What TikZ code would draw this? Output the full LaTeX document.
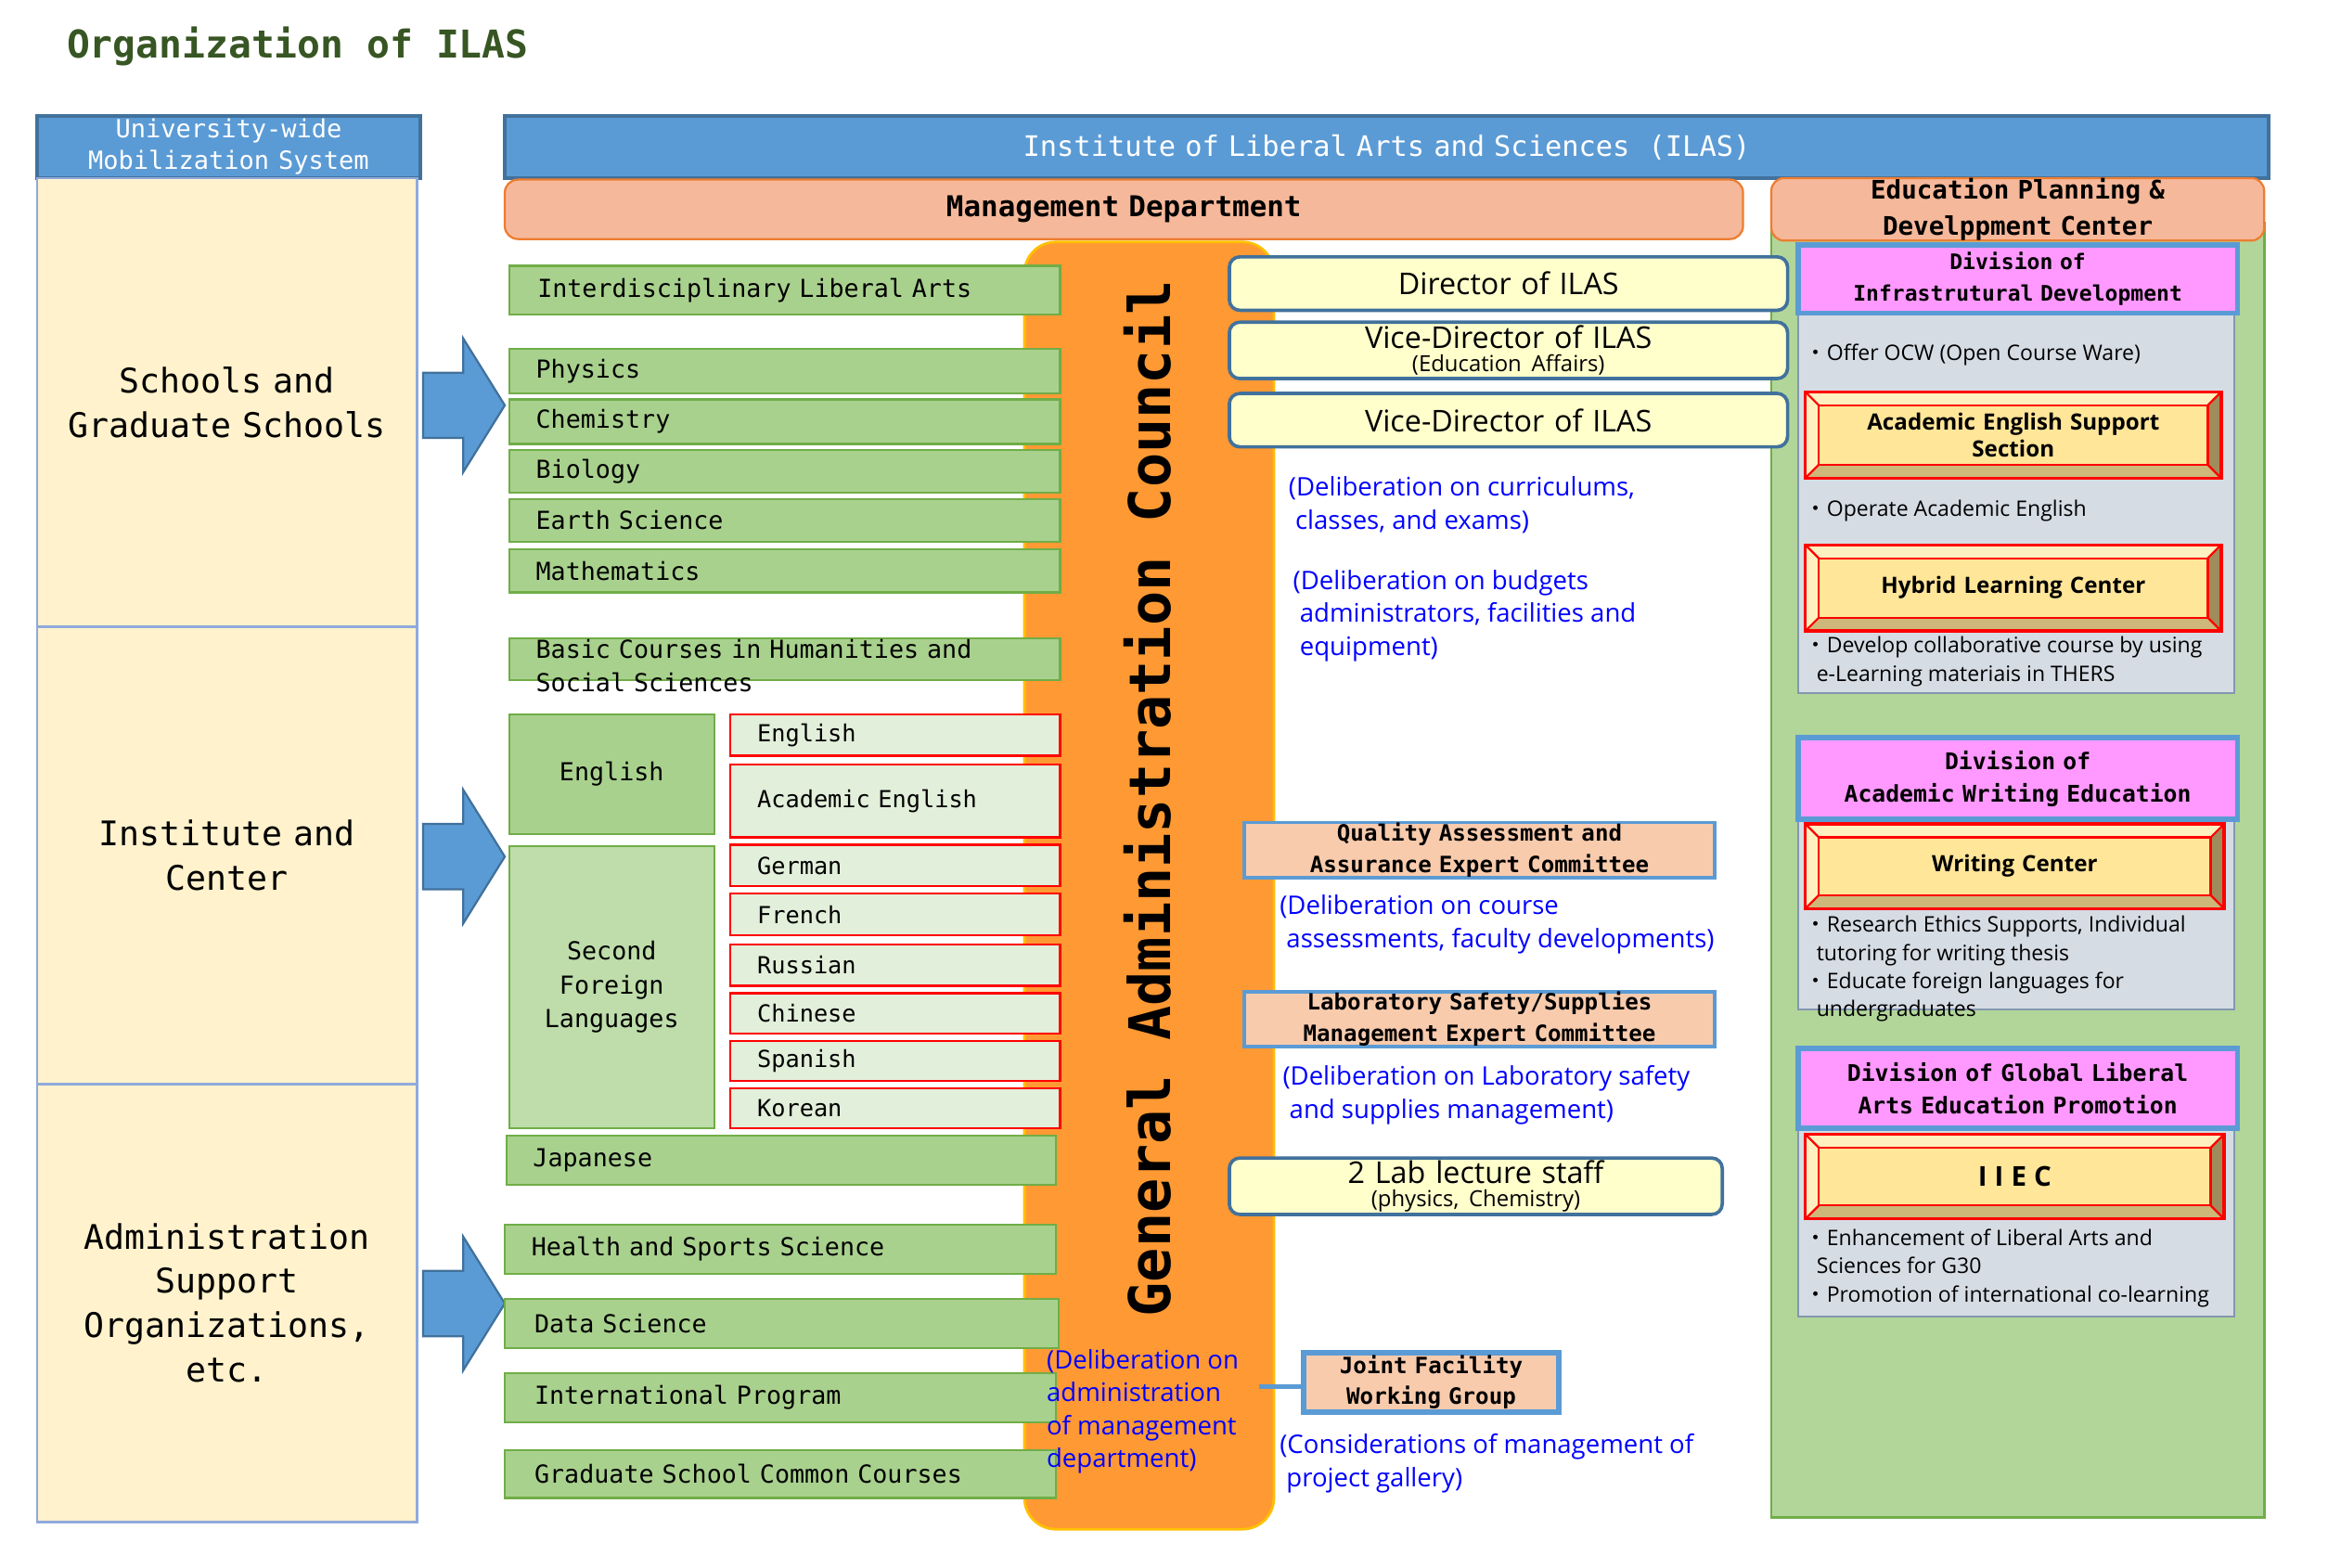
\documentclass[tikz,border=0pt]{standalone}
\usepackage{fontspec}
\setmainfont{Open Sans}
\newfontfamily\mono{DejaVu Sans Mono}
\newfontfamily\cjk{Noto Sans CJK JP}
\newcommand\dotb{{\cjk ・}}
\usetikzlibrary{positioning}
\def\uu{0.02cm}
\definecolor{blueH}{HTML}{5B9BD5}
\definecolor{blueHB}{HTML}{41719C}
\definecolor{cream}{HTML}{FFF2CC}
\definecolor{leftB}{HTML}{8FAADC}
\definecolor{salmon}{HTML}{F6B89A}
\definecolor{salmonB}{HTML}{ED7D31}
\definecolor{grn}{HTML}{A9D18E}
\definecolor{grnB}{HTML}{70AD47}
\definecolor{cOr}{HTML}{FF9933}
\definecolor{cOrB}{HTML}{FFC000}
\definecolor{lang}{HTML}{E2EFDA}
\definecolor{ybox}{HTML}{FFFFCC}
\definecolor{qual}{HTML}{F8CBAD}
\definecolor{pink}{HTML}{FF99FF}
\definecolor{grayp}{HTML}{D6DCE4}
\definecolor{grayB}{HTML}{8497B0}
\definecolor{bev}{HTML}{FFE699}
\definecolor{bevL}{HTML}{FFF0C0}
\definecolor{bevR}{HTML}{A08C5A}
\definecolor{bevB}{HTML}{CDB87A}
\definecolor{ttl}{HTML}{375623}
\definecolor{bluetxt}{HTML}{0000FF}
\newcommand\bx[8]{\node[#2, minimum width={((#5)-(#3))*\uu}, minimum height={((#6)-(#4))*\uu}, text width={((#5)-(#3)-2*(#7))*\uu}] (#1) at ({((#3)+(#5))/2*\uu},{-((#4)+(#6))/2*\uu}) {#8};}
\newcommand\bevel[6]{%
 \fill[bevL] (#2*\uu,-#3*\uu) -- (#4*\uu,-#3*\uu) -- (#4*\uu-9*\uu,-#3*\uu-9*\uu) -- (#2*\uu+9*\uu,-#3*\uu-9*\uu) -- cycle;
 \fill[bevL] (#2*\uu,-#3*\uu) -- (#2*\uu,-#5*\uu) -- (#2*\uu+9*\uu,-#5*\uu+9*\uu) -- (#2*\uu+9*\uu,-#3*\uu-9*\uu) -- cycle;
 \fill[bevR] (#4*\uu,-#3*\uu) -- (#4*\uu,-#5*\uu) -- (#4*\uu-9*\uu,-#5*\uu+9*\uu) -- (#4*\uu-9*\uu,-#3*\uu-9*\uu) -- cycle;
 \fill[bevB] (#2*\uu,-#5*\uu) -- (#4*\uu,-#5*\uu) -- (#4*\uu-9*\uu,-#5*\uu+9*\uu) -- (#2*\uu+9*\uu,-#5*\uu+9*\uu) -- cycle;
 \draw[red,line width=1.2pt] (#2*\uu,-#3*\uu) rectangle (#4*\uu,-#5*\uu);
 \draw[red,line width=0.8pt] (#2*\uu,-#3*\uu) -- ++(9*\uu,-9*\uu) (#4*\uu,-#3*\uu) -- ++(-9*\uu,-9*\uu) (#2*\uu,-#5*\uu) -- ++(9*\uu,9*\uu) (#4*\uu,-#5*\uu) -- ++(-9*\uu,9*\uu);
 \bx{#1}{bevin}{#2+9}{#3+9}{#4-9}{#5-9}{0}{#6}}
\begin{document}
\begin{tikzpicture}[
 every node/.style={inner sep=0pt, outer sep=0pt},
 hdr/.style={draw=blueHB, line width=1.2pt, fill=blueH, text=white, align=center, font=\mono\fontsize{10.8}{12}\selectfont},
 lpanel/.style={draw=leftB, line width=1pt, fill=cream, align=center, font=\mono\fontsize{13}{17}\selectfont},
 sal/.style={draw=salmonB, line width=0.8pt, fill=salmon, rounded corners=5pt, align=center, font=\mono\bfseries\fontsize{11}{13.5}\selectfont},
 gbox/.style={draw=grnB, line width=0.8pt, fill=grn, align=left, font=\mono\fontsize{9.5}{13}\selectfont},
 lbox/.style={draw=red, line width=0.8pt, fill=lang, align=left, font=\mono\fontsize{9}{11}\selectfont},
 ybx/.style={draw=blueHB, line width=1.3pt, fill=ybox, rounded corners=4pt, align=center, font=\fontsize{11.5}{12}\selectfont},
 qbox/.style={draw=blueH, line width=1.3pt, fill=qual, align=center, font=\mono\bfseries\fontsize{8.6}{12}\selectfont},
 pbox/.style={draw=blueH, line width=2pt, fill=pink, align=center, font=\mono\bfseries\fontsize{8.2}{12}\selectfont},
 bevin/.style={draw=red, line width=0.8pt, fill=bev, align=center, font=\bfseries\fontsize{8.6}{10.5}\selectfont},
 btxt/.style={text=bluetxt, align=left, anchor=north west, font=\fontsize{9.8}{12.6}\selectfont},
 bul/.style={align=left, anchor=north west, font=\fontsize{8.2}{10.8}\selectfont},
 barrow/.style={fill=blueH, draw=blueHB, line width=0.8pt},
 x=\uu, y=\uu]
\useasboundingbox (0,0) rectangle (1568,-1055.6);
\fill[white] (0,0) rectangle (1568,-1055.6);
% title
\node[anchor=west, text=ttl, font=\mono\bfseries\fontsize{14.7}{16}\selectfont] (title) at (45,-31) {Organization of ILAS};
% left column
\bx{uw}{hdr}{25}{78}{283}{120}{0}{\fontsize{9.6}{13}\selectfont University-wide\\Mobilization System}
\bx{lp1}{lpanel}{25}{120}{281}{422}{0}{Schools and\\Graduate Schools}
\bx{lp2}{lpanel}{25}{422}{281}{730}{0}{Institute and\\Center}
\bx{lp3}{lpanel}{25}{730}{281}{1025}{0}{Administration\\Support\\Organizations,\\etc.}
\foreach \c in {273,577,878}{
 \draw[barrow] (285,-\c+22) -- (312,-\c+22) -- (312,-\c+45) -- (340,-\c) -- (312,-\c-45) -- (312,-\c-22) -- (285,-\c-22) -- cycle;}
% headers
\bx{ilas}{hdr}{340}{78}{1528}{120}{0}{Institute of Liberal Arts and Sciences\ \ (ILAS)}
\bx{green}{draw=grnB, line width=1pt, fill=grn!90!white}{1193}{150}{1525}{1022}{0}{}
\bx{mgmt}{sal}{340}{121}{1174}{161}{0}{Management Department}
\bx{epdc}{sal, font=\mono\bfseries\fontsize{9.8}{14}\selectfont}{1193}{121}{1525}{161}{0}{Education Planning \&\\Develppment Center}
% council
\bx{council}{draw=cOrB, line width=1pt, fill=cOr, rounded corners=12pt}{690}{163}{858}{1030}{0}{}
\node[rotate=90, font=\mono\bfseries\fontsize{22}{24}\selectfont] (gac) at (773,-538) {General Administration Council};
% green boxes
\bx{ila}{gbox}{343}{179}{714}{212}{19}{Interdisciplinary Liberal Arts}
\bx{phy}{gbox}{343}{235}{714}{265}{18}{Physics}
\bx{che}{gbox}{343}{269}{714}{299}{18}{Chemistry}
\bx{bio}{gbox}{343}{303}{714}{332}{18}{Biology}
\bx{ear}{gbox}{343}{336}{714}{365}{18}{Earth Science}
\bx{mat}{gbox}{343}{370}{714}{399}{18}{Mathematics}
\bx{bch}{gbox, text depth=0pt}{343}{430}{714}{458}{18}{\raisebox{-5pt}{\parbox[b]{10cm}{Basic Courses in Humanities and\\Social Sciences}}}
\bx{eng}{gbox, align=center}{343}{481}{481}{562}{0}{English}
\bx{sfl}{gbox, align=center, fill=grn!75!white}{343}{570}{481}{760}{0}{Second\\Foreign\\Languages}
\bx{l1}{lbox}{492}{481}{714}{509}{18}{English}
\bx{l2}{lbox}{492}{515}{714}{564}{18}{Academic English}
\bx{l3}{lbox}{492}{569}{714}{597}{18}{German}
\bx{l4}{lbox}{492}{602}{714}{630}{18}{French}
\bx{l5}{lbox}{492}{636}{714}{664}{18}{Russian}
\bx{l6}{lbox}{492}{669}{714}{696}{18}{Chinese}
\bx{l7}{lbox}{492}{701}{714}{728}{18}{Spanish}
\bx{l8}{lbox}{492}{733}{714}{760}{18}{Korean}
\bx{jap}{gbox}{341}{765}{711}{798}{18}{Japanese}
\bx{hss}{gbox}{340}{825}{711}{858}{18}{Health and Sports Science}
\bx{ds}{gbox}{340}{875}{713}{908}{20}{Data Science}
\bx{ip}{gbox}{340}{925}{711}{958}{20}{International Program}
\bx{gsc}{gbox}{340}{977}{711}{1009}{20}{Graduate School Common Courses}
% directors
\bx{dir}{ybx}{828}{173}{1204}{209}{0}{Director of ILAS}
\bx{vd1}{ybx}{828}{217}{1204}{255}{0}{Vice-Director of ILAS\\[-3pt]{\fontsize{8.5}{9}\selectfont (Education Affairs)}}
\bx{vd2}{ybx}{828}{265}{1204}{301}{0}{Vice-Director of ILAS}
\node[btxt] (t1) at (868,-321) {(Deliberation on curriculums,\\\ classes, and exams)};
\node[btxt] (t2) at (871,-384) {(Deliberation on budgets\\\ administrators, facilities and\\\ equipment)};
\bx{qa}{qbox}{838}{554}{1155}{591}{0}{Quality Assessment and\\Assurance Expert Committee}
\node[btxt] (t3) at (862,-603) {(Deliberation on course\\\ assessments, faculty developments)};
\bx{ls}{qbox}{838}{668}{1155}{705}{0}{Laboratory Safety/Supplies\\Management Expert Committee}
\node[btxt] (t4) at (864,-718) {(Deliberation on Laboratory safety\\\ and supplies management)};
\bx{lab}{ybx}{828}{780}{1160}{818}{0}{2 Lab lecture staff\\[-3pt]{\fontsize{8.5}{9}\selectfont (physics, Chemistry)}}
\node[btxt] (t5) at (705,-909) {(Deliberation on\\administration\\of management\\department)};
\bx{jf}{qbox, line width=2pt}{878}{911}{1050}{951}{0}{Joint Facility\\Working Group}
\coordinate (jc) at (848,-934);
\draw[blueH, line width=2pt] (jc) -- (jf.west |- jc);
\node[btxt] (t6) at (862,-966) {(Considerations of management of\\\ project gallery)};
% right column
\bx{g1}{draw=grayB, line width=0.6pt, fill=grayp}{1211}{211}{1505}{467}{0}{}
\bx{d1}{pbox}{1211}{165}{1507}{211}{0}{Division of\\Infrastrutural Development}
\node[bul] (b1) at (1216,-232) {\dotb Offer OCW (Open Course Ware)};
\bevel{aes}{1216}{264}{1496}{322}{Academic English Support\\Section}
\node[bul] (b2) at (1216,-337) {\dotb Operate Academic English};
\bevel{hlc}{1216}{367}{1496}{425}{Hybrid Learning Center}
\node[bul] (b3) at (1216,-429) {\dotb Develop collaborative course by using\\\ \ e-Learning materiais in THERS};
\bx{g2}{draw=grayB, line width=0.6pt, fill=grayp}{1211}{552}{1505}{680}{0}{}
\bx{d2}{pbox, font=\mono\bfseries\fontsize{8.8}{12.5}\selectfont}{1211}{497}{1507}{552}{0}{Division of\\Academic Writing Education}
\bevel{wc}{1216}{555}{1498}{612}{Writing Center}
\node[bul] (b4) at (1216,-617) {\dotb Research Ethics Supports, Individual\\\ \ tutoring for writing thesis\\\dotb Educate foreign languages for\\\ \ undergraduates};
\bx{g3}{draw=grayB, line width=0.6pt, fill=grayp}{1211}{760}{1505}{887}{0}{}
\bx{d3}{pbox, font=\mono\bfseries\fontsize{8.8}{12.5}\selectfont}{1211}{706}{1507}{760}{0}{Division of Global Liberal\\Arts Education Promotion}
\bevel{iiec}{1216}{764}{1498}{821}{\fontsize{10.5}{12}\selectfont I I E C}
\node[bul] (b5) at (1216,-828) {\dotb Enhancement of Liberal Arts and\\\ \ Sciences for G30\\\dotb Promotion of international co-learning};
\end{tikzpicture}
\end{document}
